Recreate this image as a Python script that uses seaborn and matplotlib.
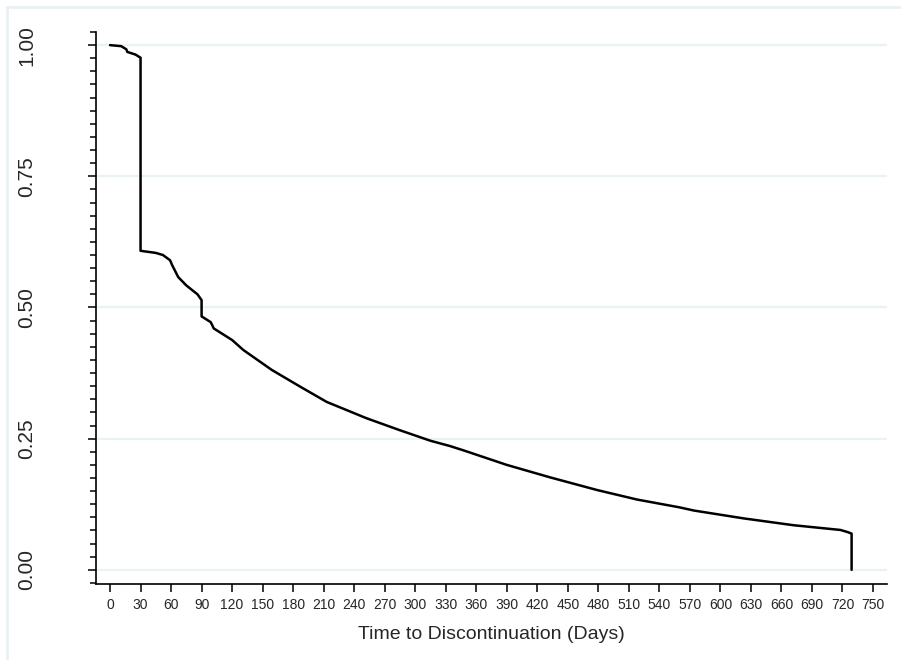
import numpy as np
import pandas as pd
import matplotlib
matplotlib.use('Agg')
import matplotlib.pyplot as plt
from matplotlib.lines import Line2D
from matplotlib.ticker import MultipleLocator
import seaborn as sns

# Kaplan-Meier estimate
days = [0, 11, 16, 17, 25, 30, 30, 45, 52, 59, 61, 67, 75, 86, 90, 90, 99, 102,
        120, 131, 159, 187, 213, 252, 285, 315, 334, 347, 390, 433, 479, 518,
        560, 574, 623, 672, 718, 725, 729, 729]
surv = [1.000, 0.998, 0.992, 0.987, 0.982, 0.976, 0.608, 0.604, 0.600, 0.590,
        0.581, 0.558, 0.542, 0.525, 0.514, 0.483, 0.472, 0.460, 0.438, 0.419,
        0.381, 0.349, 0.320, 0.289, 0.266, 0.246, 0.236, 0.228, 0.200, 0.176,
        0.152, 0.134, 0.119, 0.113, 0.098, 0.085, 0.076, 0.072, 0.069, 0.000]

x_ticks = list(range(0, 751, 30))
y_ticks = [0.0, 0.25, 0.5, 0.75, 1.0]
y_labels = ['0.00', '0.25', '0.50', '0.75', '1.00']
x_title = 'Time to Discontinuation (Days)'

df = pd.DataFrame({'days': days, 'surv': surv})

sns.set_style('white')
plt.rcParams['font.family'] = ['Liberation Sans', 'DejaVu Sans']

fig = plt.figure(figsize=(9.01, 6.60), dpi=100)
ax = fig.add_axes([96 / 901, 1 - 584 / 660, (887 - 96) / 901, (584 - 32) / 660])

# outer frame (only top and left edges visible)
frame_col = '#eaf0f3'
fig.add_artist(Line2D([7 / 901, 1], [1 - 7 / 660, 1 - 7 / 660], color=frame_col, lw=2))
fig.add_artist(Line2D([7 / 901, 7 / 901], [0, 1 - 7 / 660], color=frame_col, lw=2))

for yv in y_ticks:
    ax.axhline(yv, color='#eaf2f3', lw=1.6, zorder=0)

sns.lineplot(data=df, x='days', y='surv', ax=ax, estimator=None, sort=False,
             color='black', lw=1.8)

ax.set_xlim(-13.8, 763.8)
ax.set_ylim(-0.027, 1.025)
ax.set_xticks(x_ticks)
ax.set_xticklabels([str(v) for v in x_ticks], fontsize=10)
ax.set_yticks(y_ticks)
ax.set_yticklabels(y_labels, fontsize=15, rotation=90, va='center')
ax.yaxis.set_minor_locator(MultipleLocator(0.025))
ax.tick_params(axis='both', which='major', direction='out', length=6, width=1.1,
               color='black', bottom=True, left=True)
ax.tick_params(axis='y', which='minor', direction='out', length=4, width=1.1,
               color='black', left=True)
ax.tick_params(axis='x', pad=4)
ax.tick_params(axis='y', pad=37)

ax.set_xlabel(x_title, fontsize=14, labelpad=10)
ax.set_ylabel('')
for side in ['top', 'right']:
    ax.spines[side].set_visible(False)
for side in ['left', 'bottom']:
    ax.spines[side].set_color('black')
    ax.spines[side].set_linewidth(1.2)

fig.savefig('out.png', dpi=100)
